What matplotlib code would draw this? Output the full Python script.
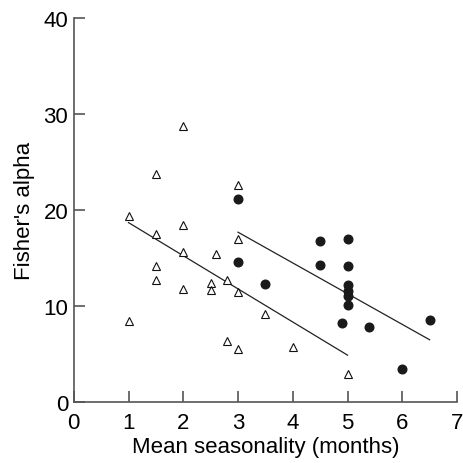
import numpy as np
import matplotlib
matplotlib.use("Agg")
import matplotlib.pyplot as plt

plt.rcParams['font.family'] = ['Liberation Sans', 'DejaVu Sans']

# open triangles
tri_x = [2.0, 1.5, 3.0, 1.0, 2.0, 1.5, 3.0, 2.0, 2.6, 1.5, 1.5, 2.0, 2.5, 2.5,
         2.8, 3.0, 1.0, 3.5, 2.8, 3.0, 4.0, 5.0]
tri_y = [28.8, 23.8, 22.6, 19.4, 18.4, 17.5, 17.0, 15.6, 15.4, 14.2, 12.7, 11.8,
         12.4, 11.7, 12.7, 11.5, 8.5, 9.2, 6.4, 5.5, 5.8, 2.9]

# filled circles
dot_x = [3.0, 3.0, 3.5, 4.5, 5.0, 4.5, 5.0, 5.0, 5.0, 5.0, 5.0, 4.9, 5.4, 6.5, 6.0]
dot_y = [21.2, 14.6, 12.3, 16.8, 17.0, 14.3, 14.2, 12.2, 11.6, 11.1, 10.1, 8.2,
         7.8, 8.6, 3.5]

# regression lines (endpoints)
tri_fit_x = [1.0, 5.0]
tri_fit_y = [18.7, 4.9]
dot_fit_x = [3.0, 6.5]
dot_fit_y = [17.7, 6.5]

fig = plt.figure(figsize=(4.64, 4.64), dpi=100)
ax = fig.add_axes([0.159, 0.131, 0.826, 0.828])

ax.plot(tri_fit_x, tri_fit_y, color='#222222', lw=0.9, zorder=1)
ax.plot(dot_fit_x, dot_fit_y, color='#222222', lw=0.9, zorder=1)
ax.plot(tri_x, tri_y, linestyle='none', marker='^', markersize=6,
        markerfacecolor='white', markeredgecolor='#111111', markeredgewidth=0.8, zorder=2)
ax.plot(dot_x, dot_y, linestyle='none', marker='o', markersize=6.2,
        markerfacecolor='#1a1a1a', markeredgecolor='#1a1a1a', zorder=3)

ax.set_xlim(0, 7)
ax.set_ylim(0, 40)
ax.set_xticks(range(0, 8))
ax.set_yticks([0, 10, 20, 30, 40])
for s in ['top', 'right']:
    ax.spines[s].set_visible(False)
for s in ['left', 'bottom']:
    ax.spines[s].set_color('#555555')
    ax.spines[s].set_linewidth(1.2)
ax.tick_params(direction='in', length=8, width=1.2, color='#555555',
               labelsize=16)
ax.tick_params(axis='x', pad=7)
ax.tick_params(axis='y', pad=4)
ax.set_xlabel('Mean seasonality (months)', fontsize=16, labelpad=2)
ax.set_ylabel("Fisher's alpha", fontsize=16, labelpad=6)

fig.savefig('out.png', dpi=100)
